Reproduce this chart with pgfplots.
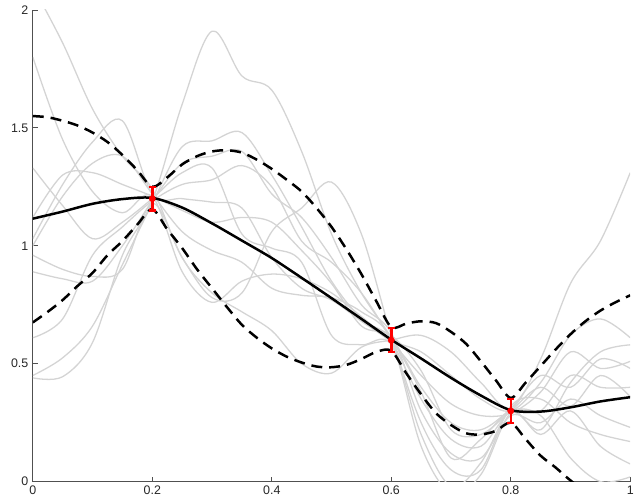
\documentclass[border=0pt]{standalone}
\usepackage{fontspec}
\setmainfont{Liberation Sans}
\usepackage{pgfplots}
\pgfplotsset{compat=1.18}
\usepackage{pgfplotstable}

\pgfplotstableread{
x     s1    s2    s3    s4    s5    s6    s7    s8    s9    s10   s11
0.00  2.10  1.80  1.03  0.44  0.45  0.61  0.89  0.96  1.33  1.00  1.12
0.05  1.86  1.45  1.26  0.445 0.525 0.69  0.86  0.90  1.17  1.21  1.30
0.10  1.58  1.23  1.44  0.59  0.66  0.96  0.85  0.87  1.03  1.35  1.31
0.15  1.38  1.14  1.53  0.96  0.92  1.08  1.00  0.90  1.10  1.38  1.26
0.20  1.24  1.21  1.22  1.19  1.18  1.19  1.19  1.18  1.20  1.22  1.21
0.25  0.95  0.89  1.20  1.60  1.42  1.26  1.35  0.95  1.31  1.06  1.15
0.30  0.80  0.76  1.185 1.91  1.445 1.28  1.38  0.78  1.33  0.98  1.10
0.35  0.72  0.85  1.16  1.72  1.48  1.34  1.40  0.80  1.05  0.93  1.12
0.40  0.64  0.88  0.95  1.66  1.30  1.25  1.22  1.06  0.99  0.82  1.10
0.45  0.50  0.86  0.82  1.40  1.08  1.02  1.12  1.16  0.93  0.79  0.98
0.50  0.46  0.80  0.77  1.05  0.85  0.93  0.95  1.27  0.62  0.78  0.84
0.55  0.57  0.70  0.68  0.80  0.69  0.80  0.75  1.05  0.58  0.72  0.66
0.60  0.60  0.60  0.59  0.61  0.61  0.60  0.63  0.62  0.58  0.60  0.62
0.65  0.62  0.55  0.45  0.38  0.40  0.35  0.30  0.25  0.20  0.15  0.47
0.70  0.55  0.45  0.33  0.10  0.25  0.18  0.12  0.05  -0.02 -0.05 0.22
0.75  0.42  0.35  0.28  0.18  0.22  0.15  0.10  0.05  0.08  0.03  0.20
0.80  0.31  0.30  0.29  0.30  0.31  0.30  0.28  0.32  0.30  0.29  0.30
0.85  0.52  0.42  0.38  0.28  0.45  0.30  0.25  0.35  0.20  0.22  0.40
0.90  0.84  0.62  0.55  0.10  0.40  0.45  0.35  0.25  0.30  0.42  0.32
0.95  1.02  0.69  0.48  0.00  0.52  0.40  0.28  0.20  0.15  0.55  0.45
1.00  1.31  0.61  0.51  0.02  0.48  0.40  0.23  0.17  0.075 0.58  0.36
}\samples

\pgfplotstableread{
x      m
0.00   1.115
0.05   1.145
0.10   1.178
0.15   1.198
0.20   1.203
0.25   1.162
0.30   1.095
0.35   1.022
0.40   0.948
0.45   0.864
0.50   0.778
0.55   0.690
0.60   0.602
0.65   0.522
0.70   0.440
0.75   0.365
0.80   0.303
0.85   0.297
0.90   0.315
0.95   0.340
1.00   0.358
}\meancurve

\pgfplotstableread{
x      u      l
0.000  1.550  0.675
0.025  1.545  0.720
0.050  1.530  0.770
0.075  1.510  0.830
0.100  1.480  0.885
0.125  1.440  0.960
0.150  1.385  1.020
0.175  1.320  1.090
0.200  1.250  1.155
0.225  1.290  1.070
0.250  1.345  0.990
0.275  1.380  0.900
0.300  1.400  0.820
0.325  1.405  0.740
0.350  1.395  0.665
0.375  1.365  0.610
0.400  1.326  0.565
0.425  1.280  0.530
0.450  1.230  0.505
0.475  1.160  0.488
0.500  1.080  0.485
0.525  0.985  0.495
0.550  0.880  0.520
0.575  0.765  0.550
0.600  0.655  0.555
0.625  0.670  0.460
0.650  0.680  0.370
0.675  0.672  0.290
0.700  0.635  0.240
0.725  0.585  0.205
0.750  0.510  0.200
0.775  0.430  0.215
0.800  0.355  0.250
0.825  0.420  0.180
0.850  0.490  0.110
0.875  0.560  0.060
0.900  0.625  0.005
0.925  0.680  -0.040
0.950  0.725  -0.050
0.975  0.760  -0.060
1.000  0.790  -0.070
}\bounds

\definecolor{samplegray}{RGB}{212,212,212}
\definecolor{axisgray}{RGB}{80,80,80}

\begin{document}
\begin{tikzpicture}
\begin{axis}[
  width=601pt, height=474.5pt, scale only axis,
  xmin=0, xmax=1, ymin=0, ymax=2,
  axis lines*=left,
  axis line style={draw=axisgray, line width=0.8pt},
  tick align=inside,
  major tick length=5pt,
  tick style={draw=axisgray, line width=0.8pt},
  xtick={0,0.2,0.4,0.6,0.8,1},
  ytick={0,0.5,1,1.5,2},
  xticklabels={0,0.2,0.4,0.6,0.8,1},
  yticklabels={0,0.5,1,1.5,2},
  ticklabel style={font=\fontsize{12.5}{14}\selectfont, text=black!85},
  yticklabel style={xshift=-1pt},
  xticklabel style={yshift=-1pt},
  /pgf/number format/assume math mode=true,
]
\foreach \c in {s1,s2,s3,s4,s5,s6,s7,s8,s9,s10,s11}{
  \addplot[samplegray, line width=1.3pt, smooth, tension=0.55] table[x=x, y=\c] {\samples};
}
\addplot[black, line width=2.5pt, smooth] table[x=x, y=m] {\meancurve};
\addplot[black, line width=2.5pt, smooth, dash pattern=on 11pt off 7pt] table[x=x, y=u] {\bounds};
\addplot[black, line width=2.5pt, smooth, dash pattern=on 11pt off 7pt] table[x=x, y=l] {\bounds};
\addplot[red, only marks, mark=*, mark size=3.2pt,
  error bars/.cd, y dir=both, y explicit,
  error bar style={line width=2.5pt, red},
  error mark options={rotate=90, red, mark size=3.5pt, line width=2.2pt}]
  coordinates {(0.2,1.2) +- (0,0.05) (0.6,0.6) +- (0,0.05) (0.8,0.3) +- (0,0.05)};
\end{axis}
\path ([shift={(-33pt,-22.5pt)}]current axis.south west) rectangle ([shift={(3pt,10pt)}]current axis.north east);
\end{tikzpicture}
\end{document}
